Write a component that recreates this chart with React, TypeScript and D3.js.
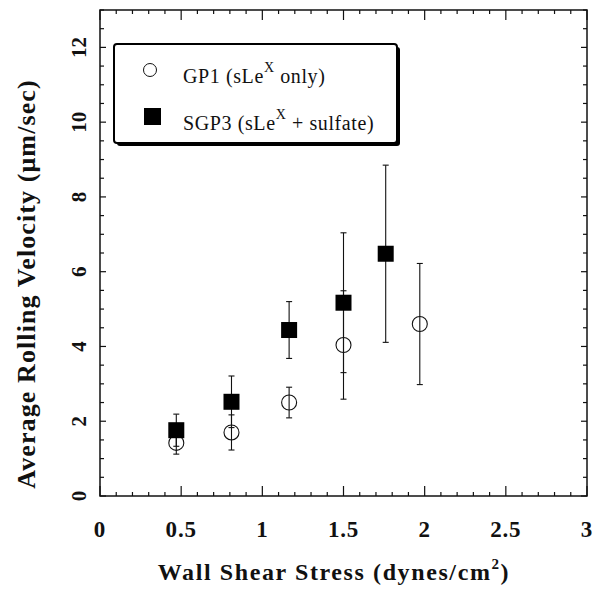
import React from "react";
import * as d3 from "d3";

const gp1X = [0.47, 0.81, 1.165, 1.5, 1.97];
const gp1Y = [1.42, 1.7, 2.5, 4.04, 4.6];
const gp1Err = [0.3, 0.47, 0.41, 1.45, 1.62];

const sgp3X = [0.47, 0.81, 1.165, 1.5, 1.76];
const sgp3Y = [1.76, 2.52, 4.44, 5.17, 6.48];
const sgp3Err = [0.43, 0.69, 0.76, 1.87, 2.37];

const xTickLabels = ["0", "0.5", "1", "1.5", "2", "2.5", "3"];
const yTickLabels = ["0", "2", "4", "6", "8", "10", "12"];

const W = 601;
const H = 589;
const L = 100, R = 587, T = 10, B = 496;
const FONT = "'Liberation Serif', 'Times New Roman', serif";

export default function App() {
  const x = d3.scaleLinear().domain([0, 3]).range([L, R]);
  const y = d3.scaleLinear().domain([0, 13]).range([B, T]);

  const xMinor = d3.range(0, 31).map((i) => i / 10);
  const yMinor = d3.range(0, 27).map((i) => i / 2);

  const cap = 3;

  const errBar = (cx: number, cy: number, e: number, k: string) => {
    const px = x(cx);
    const top = y(cy + e);
    const bot = y(cy - e);
    return (
      <g key={k} stroke="#111" strokeWidth={1.1}>
        <line x1={px} x2={px} y1={top} y2={bot} />
        <line x1={px - cap} x2={px + cap} y1={top} y2={top} />
        <line x1={px - cap} x2={px + cap} y1={bot} y2={bot} />
      </g>
    );
  };

  return (
    <svg
      width={W}
      height={H}
      style={{ position: "absolute", left: 0, top: 0, background: "#fff" }}
      fontFamily={FONT}
    >
      <rect x={0} y={0} width={W} height={H} fill="#fff" />
      {/* ticks */}
      <g stroke="#111" strokeWidth={1.2}>
        {xMinor.map((v, i) => {
          const major = i % 5 === 0;
          const len = major ? 10 : 4;
          return (
            <g key={"xt" + i}>
              <line x1={x(v)} x2={x(v)} y1={B} y2={B - len} />
              <line x1={x(v)} x2={x(v)} y1={T} y2={T + len} />
            </g>
          );
        })}
        {yMinor.map((v, i) => {
          const major = i % 4 === 0;
          const len = major ? 6 : 4;
          return (
            <g key={"yt" + i}>
              <line x1={L} x2={L + len} y1={y(v)} y2={y(v)} />
              <line x1={R} x2={R - len} y1={y(v)} y2={y(v)} />
            </g>
          );
        })}
      </g>
      <rect x={L} y={T} width={R - L} height={B - T} fill="none" stroke="#111" strokeWidth={1.5} />

      {/* tick labels */}
      <g fontWeight="bold" fontSize={23} letterSpacing={0.8} fill="#111" textAnchor="middle">
        {xTickLabels.map((t) => (
          <text key={"xl" + t} x={x(+t)} y={537}>
            {t}
          </text>
        ))}
      </g>
      <g fontWeight="bold" fontSize={21} fill="#111" textAnchor="middle">
        {yTickLabels.map((t) => (
          <text key={"yl" + t} transform={`translate(86,${y(+t)}) rotate(-90)`}>
            {t}
          </text>
        ))}
      </g>

      {/* axis titles */}
      <text
        x={334}
        y={580}
        textAnchor="middle"
        fontWeight="bold"
        fontSize={24}
        letterSpacing={1.6}
        fill="#111"
      >
        Wall Shear Stress (dynes/cm
        <tspan fontSize={15} dy={-11}>2</tspan>
        <tspan dy={11}>)</tspan>
      </text>
      <text
        transform={`translate(35,284) rotate(-90)`}
        textAnchor="middle"
        fontWeight="bold"
        fontSize={26}
        letterSpacing={1.1}
        fill="#111"
      >
        Average Rolling Velocity (μm/sec)
      </text>

      {/* GP1 */}
      {gp1X.map((v, i) => errBar(v, gp1Y[i], gp1Err[i], "ge" + i))}
      {gp1X.map((v, i) => (
        <circle key={"gc" + i} cx={x(v)} cy={y(gp1Y[i])} r={7.5} fill="none" stroke="#111" strokeWidth={1.1} />
      ))}

      {/* SGP3 */}
      {sgp3X.map((v, i) => errBar(v, sgp3Y[i], sgp3Err[i], "se" + i))}
      {sgp3X.map((v, i) => (
        <rect key={"sr" + i} x={x(v) - 8} y={y(sgp3Y[i]) - 8} width={16} height={16} fill="#000" />
      ))}

      {/* legend */}
      <rect x={117} y={47} width={283} height={99} rx={3} fill="#000" />
      <rect x={114} y={44} width={283} height={99} rx={3} fill="#fff" stroke="#000" strokeWidth={2} />
      <circle cx={150} cy={70} r={6.5} fill="none" stroke="#111" strokeWidth={1} />
      <rect x={144} y={108} width={17} height={17} fill="#000" />
      <g fontSize={20} letterSpacing={0.6} fill="#111">
        <text x={183} y={83}>
          GP1 (sLe
          <tspan fontSize={14} dy={-11}>X</tspan>
          <tspan dy={11}> only)</tspan>
        </text>
        <text x={183} y={130}>
          SGP3 (sLe
          <tspan fontSize={14} dy={-11}>X</tspan>
          <tspan dy={11}> + sulfate)</tspan>
        </text>
      </g>
    </svg>
  );
}
